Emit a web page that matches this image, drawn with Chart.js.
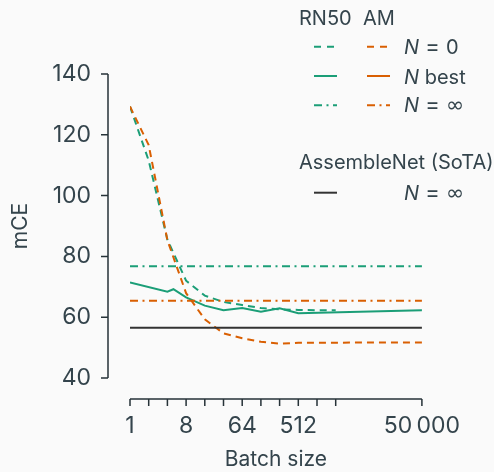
<!DOCTYPE html>
<html>
<head>
<meta charset="utf-8">
<script src="https://cdn.jsdelivr.net/npm/chart.js@4.4.1/dist/chart.umd.min.js"></script>
<style>
  html, body { margin: 0; padding: 0; background: #fafafa; }
  #wrap { position: relative; width: 494px; height: 472px; }
  #legend { position: absolute; left: 0; top: 0; font-family: Inter, sans-serif; }
  .eq { font-size: 22px; }
  .inf { font-family: "DejaVu Sans", sans-serif; font-size: 22px; }
</style>
</head>
<body>
<div id="wrap">
  <canvas id="mceChart" width="494" height="472"></canvas>
  <svg id="legend" width="494" height="472" font-size="20" fill="#34444c">
    <text x="299" y="25">RN50</text>
    <text x="363" y="25">AM</text>
    <line x1="314" x2="337" y1="46.7" y2="46.7" stroke="#1b9e77" stroke-width="2" stroke-dasharray="7 6"/>
    <line x1="367" x2="390" y1="46.7" y2="46.7" stroke="#d95f02" stroke-width="2" stroke-dasharray="7 6"/>
    <text x="404" y="54"><tspan font-style="italic">N</tspan><tspan class="eq"> = </tspan>0</text>
    <line x1="314" x2="337" y1="76" y2="76" stroke="#1b9e77" stroke-width="2"/>
    <line x1="367" x2="390" y1="76" y2="76" stroke="#d95f02" stroke-width="2"/>
    <text x="404" y="83.5"><tspan font-style="italic">N</tspan> best</text>
    <line x1="314" x2="337" y1="105.3" y2="105.3" stroke="#1b9e77" stroke-width="2" stroke-dasharray="8 4.5 2 4.5"/>
    <line x1="367" x2="390" y1="105.3" y2="105.3" stroke="#d95f02" stroke-width="2" stroke-dasharray="8 4.5 2 4.5"/>
    <text x="404" y="112"><tspan font-style="italic">N</tspan><tspan class="eq"> = </tspan><tspan class="inf">∞</tspan></text>
    <text x="299" y="169">AssembleNet (SoTA)</text>
    <line x1="314" x2="337" y1="192.7" y2="192.7" stroke="#333333" stroke-width="2"/>
    <text x="404" y="200"><tspan font-style="italic">N</tspan><tspan class="eq"> = </tspan><tspan class="inf">∞</tspan></text>
  </svg>
</div>
<script>
// axis ticks
const tickBatch = [1, 2, 4, 8, 16, 32, 64, 128, 256, 512, 1024, 2048, 50000];
const labelBatch = [1, 8, 64, 512, 50000];
const yTicks = [40, 60, 80, 100, 120, 140];

// RN50, N = 0
const rnZeroX = [1, 2, 4, 8, 16, 32, 64, 128, 256, 512, 1024, 2048];
const rnZeroY = [129.3, 111.5, 85.5, 72, 67.1, 65, 64, 63, 62.6, 62.4, 62.3, 62.3];
// AM, N = 0
const amZeroX = [1, 2, 4, 8, 16, 32, 64, 128, 256, 512, 50000];
const amZeroY = [129.3, 116.6, 85.3, 67.9, 59.3, 54.7, 53.1, 51.9, 51.3, 51.6, 51.7];
// RN50, N best
const rnBestX = [1, 4, 5, 8, 16, 32, 64, 128, 256, 512, 50000];
const rnBestY = [71.4, 68.4, 69.2, 66.5, 63.8, 62.3, 63, 61.8, 62.9, 61.3, 62.3];
// N = infinity levels
const infRange = [1, 50000];
const rnInf = 76.8;
const amInf = 65.4;
const assembleInf = 56.5;

const ink = '#34444c';
const axisInk = '#263238';
const green = '#1b9e77';
const orange = '#d95f02';
const dashDot = [8, 4.5, 2, 4.5];
const fontFamily = 'Inter, sans-serif';

function zip(xs, ys) {
    return xs.map((x, i) => ({ x: x, y: ys[i] }));
}
function flat(level) {
    return infRange.map(x => ({ x: x, y: level }));
}
function line(label, data, color, dash) {
    return {
        label: label,
        data: data,
        borderColor: color,
        borderWidth: 2,
        borderDash: dash,
        pointRadius: 0,
        fill: false,
        tension: 0
    };
}

// offset spines with tick marks, drawn through the scales
const spines = {
    id: 'spines',
    afterDraw(chart) {
        const { ctx, chartArea } = chart;
        const xs = chart.scales.x, ys = chart.scales.y;
        const ax = chartArea.left - 22;
        const by = chartArea.bottom + 21;
        ctx.save();
        ctx.strokeStyle = axisInk;
        ctx.lineWidth = 1.5;
        ctx.beginPath();
        ctx.moveTo(ax, ys.getPixelForValue(yTicks[yTicks.length - 1]));
        ctx.lineTo(ax, ys.getPixelForValue(yTicks[0]));
        yTicks.forEach(v => {
            const p = ys.getPixelForValue(v);
            ctx.moveTo(ax - 7, p);
            ctx.lineTo(ax, p);
        });
        ctx.moveTo(xs.getPixelForValue(tickBatch[0]), by);
        ctx.lineTo(xs.getPixelForValue(tickBatch[tickBatch.length - 1]), by);
        tickBatch.forEach(v => {
            const p = xs.getPixelForValue(v);
            ctx.moveTo(p, by);
            ctx.lineTo(p, by + 7);
        });
        ctx.stroke();
        ctx.restore();
    }
};

const mceCtx = document.getElementById('mceChart').getContext('2d');
const mceChart = new Chart(mceCtx, {
    type: 'line',
    data: {
        datasets: [
            line('RN50 N = ∞', flat(rnInf), green, dashDot),
            line('AM N = ∞', flat(amInf), orange, dashDot),
            line('AssembleNet N = ∞', flat(assembleInf), '#333333', []),
            line('RN50 N best', zip(rnBestX, rnBestY), green, []),
            line('AM N = 0', zip(amZeroX, amZeroY), orange, [7, 5]),
            line('RN50 N = 0', zip(rnZeroX, rnZeroY), green, [7, 5])
        ]
    },
    options: {
        responsive: false,
        animation: false,
        devicePixelRatio: 1,
        layout: { padding: { top: 74, right: 61, bottom: 0, left: 8 } },
        plugins: { legend: { display: false }, tooltip: { enabled: false } },
        scales: {
            x: {
                type: 'logarithmic',
                min: 1,
                max: 50000,
                afterBuildTicks: s => { s.ticks = tickBatch.map(v => ({ value: v })); },
                afterFit: s => { s.height = 94; },
                grid: { display: false, drawTicks: false },
                border: { display: false },
                ticks: {
                    autoSkip: false,
                    maxRotation: 0,
                    padding: 34,
                    color: ink,
                    font: { family: fontFamily, size: 23 },
                    callback: v => labelBatch.includes(v) ? (v === 50000 ? '50\u2009000' : String(v)) : ''
                },
                title: {
                    display: true,
                    text: 'Batch size',
                    color: ink,
                    padding: 0,
                    font: { family: fontFamily, size: 21 }
                }
            },
            y: {
                min: 40,
                max: 140,
                afterBuildTicks: s => { s.ticks = yTicks.map(v => ({ value: v })); },
                afterFit: s => { s.width = 122; },
                grid: { display: false, drawTicks: false },
                border: { display: false },
                ticks: {
                    padding: 39,
                    color: ink,
                    font: { family: fontFamily, size: 23 }
                },
                title: {
                    display: true,
                    text: 'mCE',
                    color: ink,
                    padding: 0,
                    font: { family: fontFamily, size: 21 }
                }
            }
        }
    },
    plugins: [spines]
});
</script>
</body>
</html>
